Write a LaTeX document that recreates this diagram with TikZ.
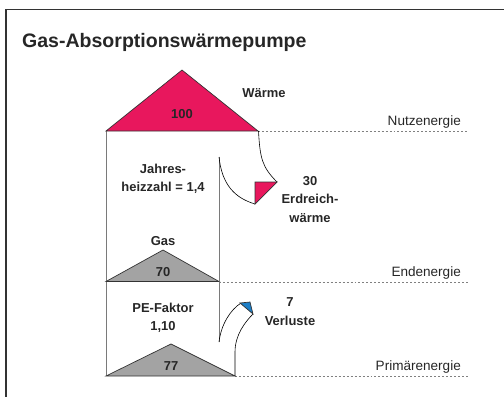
\documentclass[tikz,border=0pt]{standalone}
\usepackage{fontspec}
\setmainfont{Liberation Sans}
\definecolor{heatred}{HTML}{E8175D}
\definecolor{gasgray}{HTML}{A3A3A3}
\definecolor{lossblue}{HTML}{1C7EC6}
\definecolor{txt}{HTML}{262626}
\definecolor{wallgray}{HTML}{7A7A7A}
\begin{document}
\begin{tikzpicture}[x=1bp,y=-1bp,
  lbl/.style={font=\fontsize{13}{18.5}\selectfont\bfseries, text=txt, align=center, inner sep=0pt},
  lvl/.style={font=\fontsize{13.6}{16}\selectfont, text=txt, anchor=east, inner sep=0pt},
  wall/.style={draw=wallgray, line width=0.9pt},
  tri/.style={draw=black!80, line width=0.7pt, line join=miter},
  flow/.style={draw=black, line width=0.6pt},
  level/.style={draw=gray, line width=0.8pt, dash pattern=on 2pt off 2pt}]
\useasboundingbox (0,0) rectangle (504,396);
% frame
\draw[draw=black!80, line width=1.5pt] (6,400) -- (6,9.5) -- (510,9.5);
% title
\node[anchor=base west, inner sep=0pt, font=\fontsize{19.6}{22}\selectfont\bfseries, text=txt] (title) at (22,47) {Gas-Absorptionswärmepumpe};
% walls
\draw[wall] (106,131) -- (106,376);
\draw[wall] (219,157) -- (219,281);
\draw[wall] (219,282) -- (219,342);
% level lines
\coordinate (n1) at (258,131); \coordinate (n2) at (468,131);
\coordinate (e1) at (219,282); \coordinate (e2) at (468,282);
\coordinate (p1) at (235,376); \coordinate (p2) at (468,376);
\draw[level] (n1) -- (n2);
\draw[level] (e1) -- (e2);
\draw[level] (p1) -- (p2);
% triangles
\draw[tri, fill=heatred] (106,131) -- (182,70) -- (258,131) -- cycle;
\draw[tri, fill=gasgray] (106,281.5) -- (163,250) -- (219,281.5) -- cycle;
\draw[tri, fill=gasgray] (106,376) -- (171,344) -- (235,376) -- cycle;
% earth heat inflow
\draw[flow] (258.5,131) .. controls (260,158) and (262,167) .. (277,182);
\draw[flow] (219,157) .. controls (222,185) and (235,198) .. (255,204);
\draw[tri, fill=heatred] (255,182) -- (277,182) -- (255,204) -- cycle;
% losses
\draw[flow] (219,342) .. controls (221,325) and (230,310) .. (241,303);
\draw[flow] (235,376) -- (235,352) .. controls (235,335) and (245,322) .. (253,314);
\draw[tri, fill=lossblue] (240,303) -- (250,302) -- (253,314) -- cycle;
% labels
\node[lbl] (waerme) at (264,93) {Wärme};
\node[lbl] (v100) at (182,114) {100};
\node[lbl] (jaz) at (163,179) {Jahres-\\heizzahl = 1,4};
\node[lbl] (erd) at (310,199.5) {30\\Erdreich-\\wärme};
\node[lbl] (gas) at (163,241) {Gas};
\node[lbl] (v70) at (163,272) {70};
\node[lbl] (pe) at (163,318) {PE-Faktor\\1,10};
\node[lbl] (v77) at (171,366) {77};
\node[lbl] (verl) at (290,311.5) {7\\Verluste};
\node[lvl] (nutz) at (461,122) {Nutzenergie};
\node[lvl] (end) at (461,273) {Endenergie};
\node[lvl] (prim) at (461,367) {Primärenergie};
\end{tikzpicture}
\end{document}
